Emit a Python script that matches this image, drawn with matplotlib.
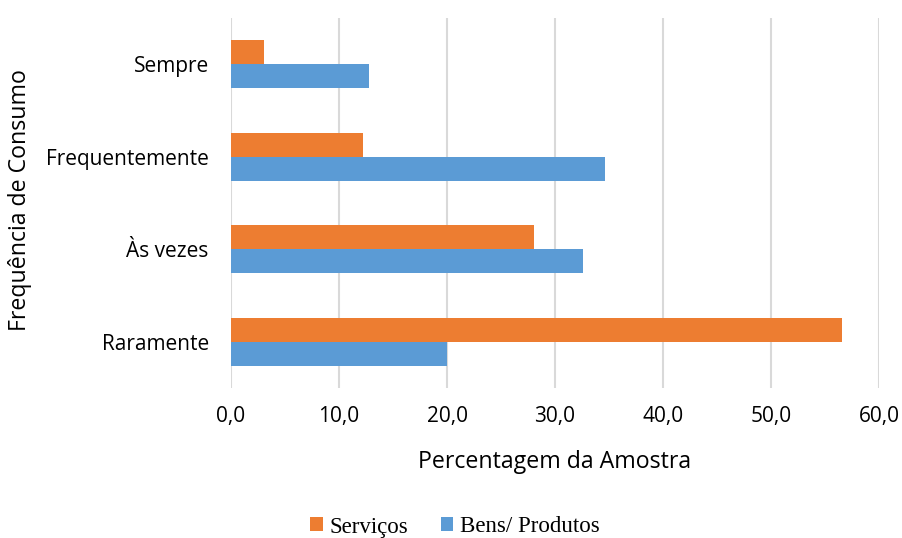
import matplotlib.pyplot as plt
import numpy as np
from matplotlib.ticker import FuncFormatter

# frequência de consumo, de baixo para cima
categorias = ['Raramente', 'Às vezes', 'Frequentemente', 'Sempre']
servicos = [56.6, 28.1, 12.2, 3.1]
bens_produtos = [20.0, 32.6, 34.6, 12.8]

cor_servicos = '#ED7D31'
cor_bens = '#5B9BD5'

fig = plt.figure(figsize=(9.02, 5.38), dpi=100)
ax = fig.add_axes([0.2561, 0.2788, 0.7184, 0.6877])

y = np.arange(len(categorias))
h = 0.26
ax.barh(y + h / 2, servicos, height=h, color=cor_servicos, label='Serviços', zorder=3)
ax.barh(y - h / 2, bens_produtos, height=h, color=cor_bens, label='Bens/ Produtos', zorder=3)

ax.set_xlim(0, 60)
ax.set_ylim(-0.5, 3.5)
ax.set_xticks(np.arange(0, 61, 10))
ax.xaxis.set_major_formatter(FuncFormatter(lambda v, p: f'{v:.1f}'.replace('.', ',')))
ax.set_yticks(y)
ax.set_yticklabels(categorias)

ax.grid(axis='x', color='#d9d9d9', linewidth=1.5, zorder=0)
for s in ax.spines.values():
    s.set_visible(False)

fnt = 'Open Sans'
ax.tick_params(axis='both', length=0, labelsize=15, colors='#000000')
ax.tick_params(axis='y', pad=16)
ax.tick_params(axis='x', pad=13)
for lab in ax.get_xticklabels() + ax.get_yticklabels():
    lab.set_fontfamily(fnt)

ax.set_xlabel('Percentagem da Amostra', fontsize=16.7, fontfamily=fnt, va='center')
ax.xaxis.set_label_coords(0.5, -0.2)
ax.set_ylabel('Frequência de Consumo', fontsize=16.7, fontfamily=fnt, va='center')
ax.yaxis.set_label_coords(-0.3256, 0.508)

fig.legend(loc='center', bbox_to_anchor=(455 / 902, 1 - 527 / 538), ncol=2, frameon=False,
           prop={'family': 'Liberation Serif', 'size': 16.5}, handlelength=0.55, handleheight=0.55,
           handletextpad=0.3, columnspacing=1.4)

fig.savefig('out.png', dpi=100)
